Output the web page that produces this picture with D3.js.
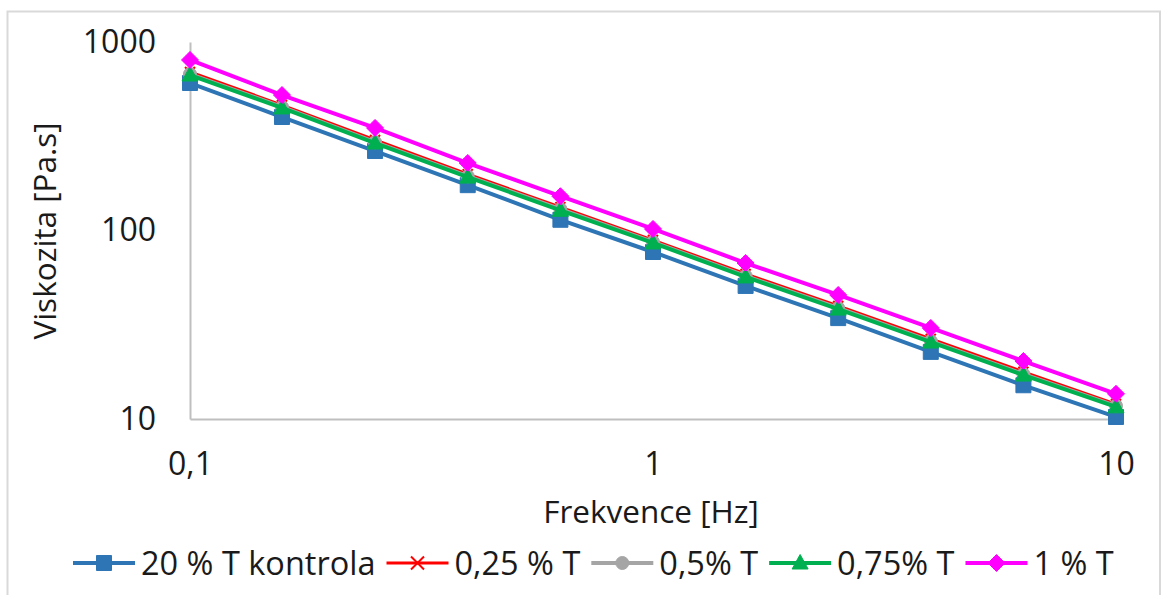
<!DOCTYPE html>
<html>
<head>
<meta charset="utf-8">
<script src="https://cdn.jsdelivr.net/npm/d3@7"></script>
<style>
  html, body { margin: 0; padding: 0; background: #fff; }
  svg { display: block; font-family: "Open Sans", "Noto Sans", sans-serif; }
</style>
</head>
<body>
<svg id="chart" width="1161" height="595"></svg>
<script>
// Frequency sweep (Hz)
const frequencies = [0.1, 0.158, 0.251, 0.398, 0.631, 1, 1.585, 2.512, 3.981, 6.31, 10];

// Viscosity [Pa.s] per sample
const kontrola = [606, 400, 264, 174, 114, 76.9, 50.8, 34.3, 22.7, 15.1, 10.25];
const t025     = [693, 463, 302, 199, 133, 89.0, 58.8, 39.8, 26.6, 17.8, 12.0];
const t05      = [676, 452, 294, 194, 130, 87.0, 57.4, 38.8, 25.9, 17.3, 11.75];
const t075     = [668, 447, 291, 192, 128, 85.9, 56.7, 38.3, 25.6, 17.1, 11.6];
const t1       = [803, 523, 350, 228, 152, 101.9, 67.2, 45.5, 30.4, 20.3, 13.6];

const seriesNames  = ["20 % T kontrola", "0,25 % T", "0,5% T", "0,75% T", "1 % T"];
const seriesValues = [kontrola, t025, t05, t075, t1];
const seriesColors = ["#2E75B6", "#FF0000", "#A5A5A5", "#00B050", "#FF00FF"];
const seriesMarkers = ["square", "x", "circle", "triangle", "diamond"];
const seriesWidths = [4, 3, 4, 4, 4];

const xTickValues = [0.1, 1, 10];
const xTickLabels = ["0,1", "1", "10"];
const yTickValues = [10, 100, 1000];
const yTickLabels = ["10", "100", "1000"];

const xTitle = "Frekvence [Hz]";
const yTitle = "Viskozita [Pa.s]";

const svg = d3.select("#chart");
const textColor = "#1a1a1a";
const tickFont = 32;
const titleFont = 31.5;
const legendFont = 32.5;

// Outer chart frame
svg.append("rect")
  .attr("x", 7.5).attr("y", 11.5)
  .attr("width", 1152.5).attr("height", 620)
  .attr("fill", "#fff")
  .attr("stroke", "#D9D9D9").attr("stroke-width", 2);

const x = d3.scaleLog().domain([0.1, 10]).range([190, 1116]);
const y = d3.scaleLog().domain([10, 1000]).range([419, 42]);

// Axes
const xAxis = d3.axisBottom(x)
  .tickValues(xTickValues)
  .tickFormat((d, i) => xTickLabels[i])
  .tickSize(0).tickPadding(33);
const yAxis = d3.axisLeft(y)
  .tickValues(yTickValues)
  .tickFormat((d, i) => yTickLabels[i])
  .tickSize(0).tickPadding(34);

const gx = svg.append("g").attr("transform", `translate(0,${y(10)})`).call(xAxis);
const gy = svg.append("g").attr("transform", `translate(${x(0.1)},0)`).call(yAxis);
[gx, gy].forEach(g => {
  g.select(".domain").attr("stroke", "#BFBFBF").attr("stroke-width", 2);
  g.selectAll("text")
    .attr("font-size", tickFont)
    .attr("font-family", '"Open Sans", sans-serif')
    .attr("fill", textColor);
});

// Axis titles
svg.append("text")
  .attr("x", 651).attr("y", 523)
  .attr("text-anchor", "middle")
  .attr("font-size", titleFont).attr("fill", textColor)
  .text(xTitle);
svg.append("text")
  .attr("transform", "translate(56,231) rotate(-90)")
  .attr("text-anchor", "middle")
  .attr("font-size", titleFont).attr("fill", textColor)
  .text(yTitle);

// Marker shapes
function markerPath(type, s) {
  switch (type) {
    case "square": { const h = 7.5; return `M${-h},${-h}H${h}V${h}H${-h}Z`; }
    case "diamond": { const h = 8.5; return `M0,${-h}L${h},0L0,${h}L${-h},0Z`; }
    case "triangle": { const w = 8, t = 8.5, b = 6; return `M0,${-t}L${w},${b}L${-w},${b}Z`; }
    case "circle": { const r = 6.5; return `M${r},0A${r},${r} 0 1 1 ${-r},0A${r},${r} 0 1 1 ${r},0Z`; }
    case "x": { const h = s || 5; return `M${-h},${-h}L${h},${h}M${h},${-h}L${-h},${h}`; }
  }
}
function drawMarker(g, type, color, s) {
  const p = g.append("path").attr("d", markerPath(type, s));
  if (type === "x") p.attr("fill", "none").attr("stroke", color).attr("stroke-width", 2);
  else p.attr("fill", color).attr("stroke", color).attr("stroke-width", 1);
}

const line = d3.line()
  .x(d => x(d[0]))
  .y(d => y(d[1]));

// Series: line then markers, in series order
seriesValues.forEach((vals, si) => {
  const pts = frequencies.map((f, i) => [f, vals[i]]);
  const g = svg.append("g");
  g.append("path")
    .datum(pts)
    .attr("d", line)
    .attr("fill", "none")
    .attr("stroke", seriesColors[si])
    .attr("stroke-width", seriesWidths[si])
    .attr("stroke-linejoin", "round");
  g.selectAll("g.m").data(pts).join("g")
    .attr("class", "m")
    .attr("transform", d => `translate(${x(d[0])},${y(d[1])})`)
    .each(function () { drawMarker(d3.select(this), seriesMarkers[si], seriesColors[si]); });
});

// Legend
const legend = svg.append("g").attr("transform", "translate(0,563)");
let lx = 73;
seriesNames.forEach((name, si) => {
  const item = legend.append("g").attr("transform", `translate(${lx},0)`);
  item.append("line")
    .attr("x1", 0).attr("x2", 62).attr("y1", 0).attr("y2", 0)
    .attr("stroke", seriesColors[si]).attr("stroke-width", seriesWidths[si]);
  const mg = item.append("g").attr("transform", "translate(31,0)");
  drawMarker(mg, seriesMarkers[si], seriesColors[si], 6.5);
  const t = item.append("text")
    .attr("x", 68).attr("y", 0).attr("dy", "0.36em")
    .attr("font-size", legendFont).attr("fill", textColor)
    .text(name);
  lx += 68 + t.node().getComputedTextLength() + 11;
});
</script>
</body>
</html>
